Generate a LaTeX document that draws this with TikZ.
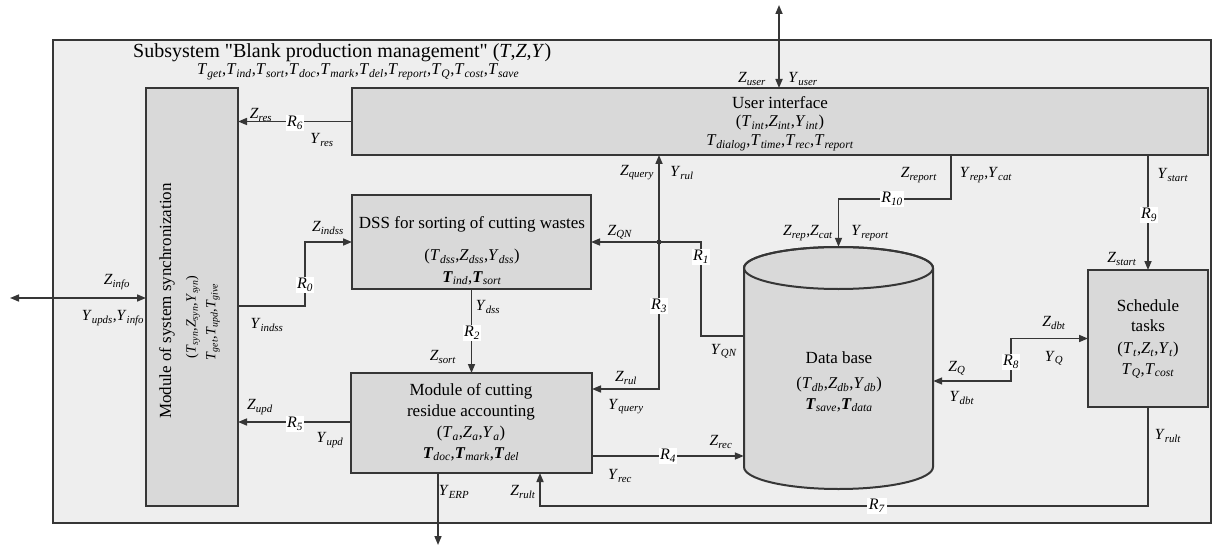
\documentclass[tikz,border=0pt]{standalone}
\usepackage{fontspec}
\setmainfont{Liberation Serif}
\newfontfamily\qfont{Liberation Serif}
\usetikzlibrary{arrows.meta,calc}
\definecolor{outerfill}{HTML}{EEEEEE}
\definecolor{boxfill}{HTML}{D9D9D9}
\definecolor{linec}{HTML}{363636}
\newcommand\vr[2]{\textit{#1}\textsubscript{\textit{#2}}}
\newcommand\vb[2]{\textbf{\textit{#1}}\textsubscript{\textit{#2}}}
\newcommand\sq{{\qfont"}}
\begin{document}
\begin{tikzpicture}[x=1pt,y=-1pt, >={Triangle[length=9pt,width=7pt]},
 box/.style={draw=linec,line width=2pt,fill=boxfill,inner sep=0pt,outer sep=0pt},
 ln/.style={draw=linec,line width=1.6pt},
 lb/.style={font=\fontsize{15.5}{18}\selectfont,inner sep=0pt},
 rl/.style={font=\fontsize{16}{18}\selectfont,fill=white,inner sep=1.5pt},
 bt/.style={font=\fontsize{17}{20}\selectfont,inner sep=0pt},
 st/.style={font=\fontsize{16.5}{19}\selectfont,inner sep=0pt},
 rt/.style={font=\fontsize{14}{16}\selectfont,inner sep=0pt,rotate=90}]

\useasboundingbox (0,0) rectangle (1214,548);
\node[box,fill=outerfill,minimum width=1158pt,minimum height=483pt] (outer) at (632,281.5) {};

\node[lb,anchor=west,font=\fontsize{20}{24}\selectfont] (title) at (133,53) {Subsystem \sq Blank production management\sq{} (\textit{T},\textit{Z},\textit{Y})};
\node[lb,anchor=west,font=\fontsize{16.5}{19}\selectfont] (tlist) at (197,72) {\vr{T}{get},\vr{T}{ind},\vr{T}{sort},\vr{T}{doc},\vr{T}{mark},\vr{T}{del},\vr{T}{report},\vr{T}{Q},\vr{T}{cost},\vr{T}{save}};

% boxes
\node[box,minimum width=856pt,minimum height=67pt] (ui) at (780,121.5) {};
\node[box,minimum width=92pt,minimum height=418pt] (sync) at (192,297) {};
\node[box,minimum width=239pt,minimum height=94pt] (dss) at (471.5,242) {};
\node[box,minimum width=241pt,minimum height=100pt] (cra) at (471.5,423) {};
\node[box,minimum width=120pt,minimum height=137pt] (sch) at (1148,338.5) {};
% cylinder
\path[draw=linec,line width=2pt,fill=boxfill] (744,268) -- (744,467) arc[start angle=180,end angle=360,x radius=94.5pt,y radius=22pt] -- (933,268) arc[start angle=0,end angle=180,x radius=94.5pt,y radius=21pt] -- cycle;
\draw[linec,line width=2pt] (838.5,268) ellipse[x radius=94.5pt,y radius=21pt];
\node[inner sep=0pt,minimum width=189pt,minimum height=242pt] (db) at (838.5,368) {};

% box texts
\node[bt] (uit1) at (780,103) {User interface};
\node[st] (uit2) at (780,123) {(\vr{T}{int},\vr{Z}{int},\vr{Y}{int})};
\node[st] (uit3) at (780,143) {\vr{T}{dialog},\vr{T}{time},\vr{T}{rec},\vr{T}{report}};

\node[bt,rotate=90] (synct1) at (167,301) {Module of system synchronization};
\node[rt] (synct2) at (193,317) {(\vr{T}{syn},\vr{Z}{syn},\vr{Y}{syn})};
\node[rt] (synct3) at (213,322) {\vr{T}{get},\vr{T}{upd},\vr{T}{give}};

\node[bt] (dsst1) at (472,224) {DSS for sorting of cutting wastes};
\node[st] (dsst2) at (472,257) {(\vr{T}{dss},\vr{Z}{dss},\vr{Y}{dss})};
\node[st] (dsst3) at (472,278) {\vb{T}{ind},\vb{T}{sort}};

\node[bt] (crat1) at (471,391) {Module of cutting};
\node[bt] (crat2) at (471,412) {residue accounting};
\node[st] (crat3) at (471,434) {(\vr{T}{a},\vr{Z}{a},\vr{Y}{a})};
\node[st] (crat4) at (471,454) {\vb{T}{doc},\vb{T}{mark},\vb{T}{del}};

\node[bt] (scht1) at (1148,306) {Schedule};
\node[bt] (scht2) at (1148,326) {tasks};
\node[st] (scht3) at (1148,350) {(\vr{T}{t},\vr{Z}{t},\vr{Y}{t})};
\node[st] (scht4) at (1148,371) {\vr{T}{Q},\vr{T}{cost}};

\node[bt] (dbt1) at (839,358) {Data base};
\node[st] (dbt2) at (839,385) {(\vr{T}{db},\vr{Z}{db},\vr{Y}{db})};
\node[st] (dbt3) at (839,405) {\vb{T}{save},\vb{T}{data}};

% connectors
\coordinate (usertop) at (779,5);
\draw[ln,<->] (usertop) -- (usertop |- ui.north);
\coordinate (infoL) at (10,298);
\draw[ln,<->] (infoL) -- (infoL -| sync.west);
\draw[ln,->] (ui.west) -- (ui.west -| sync.east);
\draw[ln,->] ($(sync.east)+(0,9)$) -- ++(67,0) |- (dss.west);
\draw[ln,->] ($(cra.west)+(0,-1)$) -- ($(cra.west -| sync.east)+(0,-1)$);
\draw[ln,->] (dss.south) -- (cra.north);
\coordinate (erp) at (438,545);
\draw[ln,->] (erp |- cra.south) -- (erp);
\draw[ln,->] (sch.south) -- ++(0,99) -| ($(cra.south)+(68.5,0)$);
\draw[ln,->] ($(cra.east)+(0,33)$) -- ($(db.west)+(0,88)$);
\draw[ln,<->] ($(cra.east)+(0,-34)$) -| ($(ui.south)+(-121,0)$);
\draw[ln,->] ($(db.west)+(0,-32)$) -| ($(dss.east)+(110,0)$) -- (dss.east);
\fill[linec] ($(dss.east)+(68,0)$) circle (2.5pt);
\draw[ln,->] ($(ui.south)+(171,0)$) -- ++(0,44) -| (db.north);
\draw[ln,->] (sch.north |- ui.south) -- (sch.north);
\draw[ln,<->] ($(db.east)+(0,13)$) -| ($(sch.west)+(-77,0)$) -- (sch.west);

% labels
\node[lb] (lzuser) at (752,79) {\vr{Z}{user}};
\node[lb] (lyuser) at (803,79) {\vr{Y}{user}};
\node[lb] (lzinfo) at (117,282) {\vr{Z}{info}};
\node[lb] (lyinfo) at (113,318) {\vr{Y}{upds},\vr{Y}{info}};
\node[lb] (lzres) at (261,115) {\vr{Z}{res}};
\node[rl] (r6) at (295,123) {\vr{R}{6}};
\node[lb] (lyres) at (322,140) {\vr{Y}{res}};
\node[lb] (lzindss) at (328,228) {\vr{Z}{indss}};
\node[rl] (r0) at (305,285) {\vr{R}{0}};
\node[lb] (lyindss) at (267,325) {\vr{Y}{indss}};
\node[lb] (lydss) at (488,307) {\vr{Y}{dss}};
\node[rl] (r2) at (472,333) {\vr{R}{2}};
\node[lb] (lzsort) at (443,357) {\vr{Z}{sort}};
\node[lb] (lzupd) at (260,407) {\vr{Z}{upd}};
\node[rl] (r5) at (295,424) {\vr{R}{5}};
\node[lb] (lyupd) at (330,440) {\vr{Y}{upd}};
\node[lb] (lyerp) at (454,492) {\vr{Y}{ERP}};
\node[lb] (lzrult) at (523,492) {\vr{Z}{rult}};
\node[rl] (r7) at (877,506) {\vr{R}{7}};
\node[lb] (lyrult) at (1168,436) {\vr{Y}{rult}};
\node[rl] (r4) at (668,456) {\vr{R}{4}};
\node[lb] (lzrec) at (721,442) {\vr{Z}{rec}};
\node[lb] (lyrec) at (620,476) {\vr{Y}{rec}};
\node[lb] (lzquery) at (637,173) {\vr{Z}{query}};
\node[lb] (lyrul) at (682,173) {\vr{Y}{rul}};
\node[rl] (r3) at (659,306) {\vr{R}{3}};
\node[lb] (lzrul) at (626,378) {\vr{Z}{rul}};
\node[lb] (lyquery) at (626,407) {\vr{Y}{query}};
\node[lb] (lzqn) at (620,232) {\vr{Z}{QN}};
\node[rl] (r1) at (701,257) {\vr{R}{1}};
\node[lb] (lyqn) at (724,351) {\vr{Y}{QN}};
\node[lb] (lzreport) at (919,175) {\vr{Z}{report}};
\node[lb] (lyrep) at (986,175) {\vr{Y}{rep},\vr{Y}{cat}};
\node[rl] (r10) at (892,199) {\vr{R}{10}};
\node[lb] (lzrep) at (808,233) {\vr{Z}{rep},\vr{Z}{cat}};
\node[lb] (lyreport) at (870,233) {\vr{Y}{report}};
\node[lb] (lystart) at (1173,175) {\vr{Y}{start}};
\node[rl] (r9) at (1149,215) {\vr{R}{9}};
\node[lb] (lzstart) at (1122,259) {\vr{Z}{start}};
\node[lb] (lzdbt) at (1054,323) {\vr{Z}{dbt}};
\node[lb] (lyq) at (1054,358) {\vr{Y}{Q}};
\node[rl] (r8) at (1011,362) {\vr{R}{8}};
\node[lb] (lzq) at (957,368) {\vr{Z}{Q}};
\node[lb] (lydbt) at (962,398) {\vr{Y}{dbt}};
\end{tikzpicture}
\end{document}
